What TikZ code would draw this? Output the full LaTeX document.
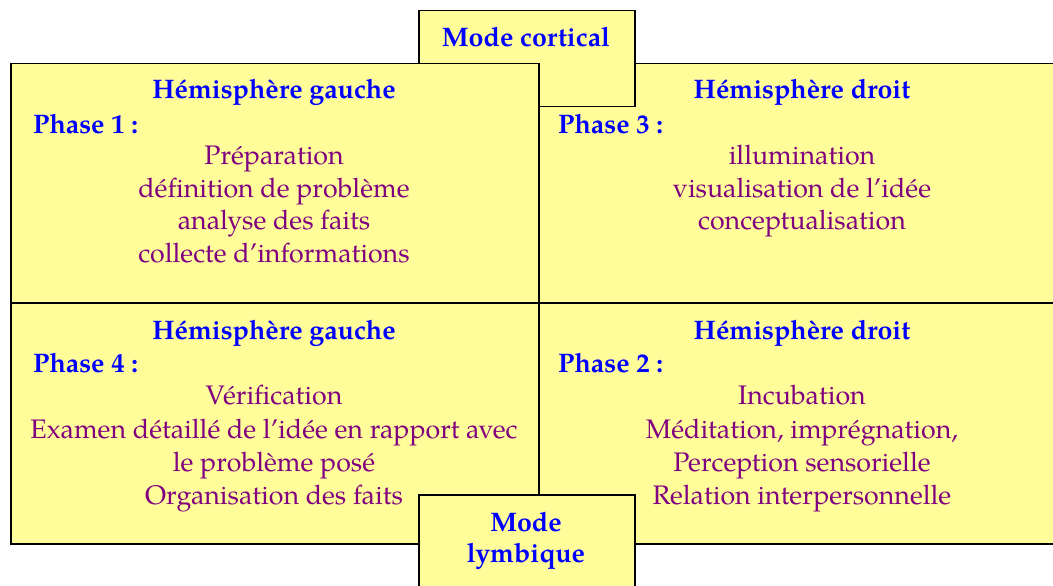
\documentclass[tikz,border=0pt]{standalone}
\usepackage{fontspec}
\setmainfont{TeX Gyre Pagella}
\definecolor{boxfill}{HTML}{FFFD99}
\definecolor{headblue}{HTML}{0000FF}
\definecolor{itempurple}{HTML}{800080}
\tikzset{
  quad/.style={draw=black, fill=boxfill, line width=1.5pt, inner sep=0pt, anchor=north west},
  head/.style={font=\fontsize{26.8}{32}\selectfont\bfseries, text=headblue, anchor=base, inner sep=0pt},
  phase/.style={font=\fontsize{26.8}{32}\selectfont\bfseries, text=headblue, anchor=base west, inner sep=0pt},
  item/.style={font=\fontsize{26.8}{32}\selectfont, text=itempurple, anchor=base, inner sep=0pt},
}
\begin{document}
\begin{tikzpicture}[x=1pt,y=-1pt]
\useasboundingbox (0,0) rectangle (1053,586);
\clip (0,0) rectangle (1053,586);
% top right quadrant (under the cortical box)
\node[quad, minimum width=530pt, minimum height=239pt] (tr) at (538,63) {};
% cortical box
\node[quad, minimum width=216pt, minimum height=96pt] (cort) at (418,10) {};
% top left quadrant
\node[quad, minimum width=528pt, minimum height=239pt] (tl) at (10,63) {};
% bottom quadrants
\node[quad, minimum width=528pt, minimum height=241pt] (bl) at (10,302) {};
\node[quad, minimum width=530pt, minimum height=241pt] (br) at (538,302) {};
% lymbic box
\node[quad, minimum width=216pt, minimum height=110pt] (lymb) at (418,494) {};

% labels of the mode boxes
\node[head] (cortT) at (526,47) {Mode cortical};
\node[head] (lymbT1) at (526,531) {Mode};
\node[head] (lymbT2) at (526,562) {lymbique};

% top left
\node[head] (tlH) at (274,99) {Hémisphère gauche};
\node[phase] (tlP) at (33,133) {Phase 1 :};
\node[item] (tl1) at (274,164) {Préparation};
\node[item] (tl2) at (274,197) {définition de problème};
\node[item] (tl3) at (274,229) {analyse des faits};
\node[item] (tl4) at (274,262) {collecte d’informations};

% top right
\node[head] (trH) at (802,99) {Hémisphère droit};
\node[phase] (trP) at (558,133) {Phase 3 :};
\node[item] (tr1) at (802,164) {illumination};
\node[item] (tr2) at (802,197) {visualisation de l’idée};
\node[item] (tr3) at (802,229) {conceptualisation};

% bottom left
\node[head] (blH) at (274,339) {Hémisphère gauche};
\node[phase] (blP) at (33,372) {Phase 4 :};
\node[item] (bl1) at (274,404) {Vérification};
\node[item] (bl2) at (274,438) {Examen détaillé de l’idée en rapport avec};
\node[item] (bl3) at (274,471) {le problème posé};
\node[item] (bl4) at (274,504) {Organisation des faits};

% bottom right
\node[head] (brH) at (802,339) {Hémisphère droit};
\node[phase] (brP) at (558,372) {Phase 2 :};
\node[item] (br1) at (802,404) {Incubation};
\node[item] (br2) at (802,438) {Méditation, imprégnation,};
\node[item] (br3) at (802,471) {Perception sensorielle};
\node[item] (br4) at (802,504) {Relation interpersonnelle};
\end{tikzpicture}
\end{document}
